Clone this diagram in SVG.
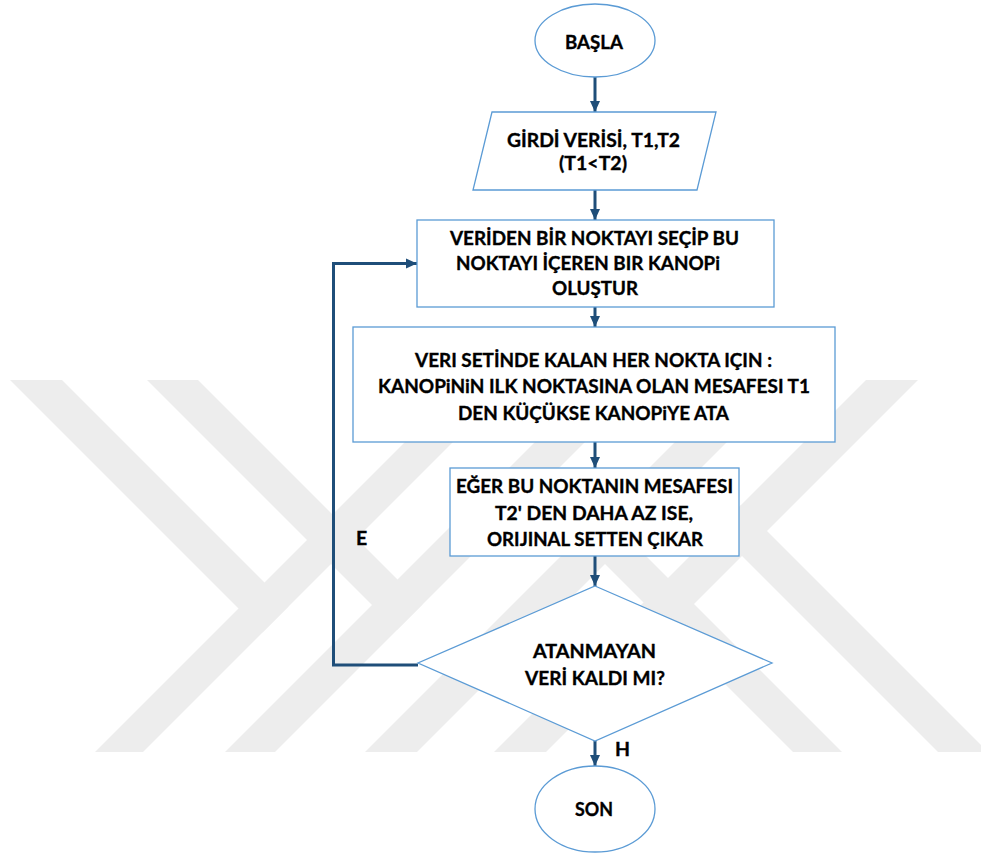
<svg xmlns="http://www.w3.org/2000/svg" width="981" height="855" viewBox="0 0 981 855">
  <defs>
    <style>
      .node { fill: #ffffff; stroke: #5b9bd5; stroke-width: 1.3; }
      .lbl { font-family: "Lato", "Open Sans", "Liberation Sans", sans-serif; font-weight: 700; font-size: 19.5px; fill: #000000; stroke: #000000; stroke-width: 0.35; text-anchor: middle; }
      .tag { font-family: "Lato", "Open Sans", "Liberation Sans", sans-serif; font-weight: 700; font-size: 19.5px; fill: #000000; stroke: #000000; stroke-width: 0.35; }
      .wire { fill: none; stroke: #1f4e79; stroke-width: 3; }
      .mark { fill: #ededed; }
    </style>
    <marker id="arrow" markerUnits="userSpaceOnUse" markerWidth="12" markerHeight="12" viewBox="0 0 12 12" refX="11" refY="6" orient="auto">
      <path d="M0,1 L11,6 L0,11 Z" fill="#1f4e79"/>
    </marker>
    <clipPath id="band">
      <rect x="0" y="380" width="981" height="372"/>
    </clipPath>
  </defs>

  <rect x="0" y="0" width="981" height="855" fill="#ffffff"/>

  <!-- background emblem: diagonal bands -->
  <g id="emblem" clip-path="url(#band)">
    <polygon class="mark" points="467,380 515,380 143,752 95,752"/>
    <polygon class="mark" points="597,380 647,380 275,752 225,752"/>
    <polygon class="mark" points="737,380 789,380 417,752 365,752"/>
    <polygon class="mark" points="866,380 918,380 546,752 494,752"/>
    <polygon class="mark" points="10,380 62,380 288.5,606.5 262.5,632.5"/>
    <polygon class="mark" points="147,380 198,380 422.5,604.5 397,630"/>
    <polygon class="mark" points="716,530 741,505 988,752 938,752"/>
    <polygon class="mark" points="579,538 603.5,513.5 842,752 793,752"/>
  </g>

  <!-- connectors -->
  <g id="connectors">
    <line class="wire" x1="595" y1="77" x2="595" y2="112" marker-end="url(#arrow)"/>
    <line class="wire" x1="595" y1="190" x2="595" y2="220" marker-end="url(#arrow)"/>
    <line class="wire" x1="595" y1="307" x2="595" y2="327" marker-end="url(#arrow)"/>
    <line class="wire" x1="595" y1="442" x2="595" y2="468" marker-end="url(#arrow)"/>
    <line class="wire" x1="595" y1="556" x2="595" y2="586" marker-end="url(#arrow)"/>
    <line class="wire" x1="595" y1="741" x2="595" y2="766" marker-end="url(#arrow)"/>
    <polyline class="wire" points="418,665 333.5,665 333.5,263.5 417,263.5" marker-end="url(#arrow)"/>
    <text class="tag" x="356" y="545">E</text>
    <text class="tag" x="615" y="756">H</text>
  </g>

  <g id="start">
    <ellipse class="node" cx="595" cy="40.5" rx="60" ry="36.5"/>
    <text class="lbl" x="594" y="49" textLength="58" lengthAdjust="spacingAndGlyphs">BAŞLA</text>
  </g>

  <g id="input">
    <polygon class="node" points="492,112 716,112 697,190 473,190"/>
    <text class="lbl" x="593.5" y="147" textLength="173" lengthAdjust="spacingAndGlyphs">GİRDİ VERİSİ, T1,T2</text>
    <text class="lbl" x="593" y="169.5" textLength="68" lengthAdjust="spacingAndGlyphs">(T1&lt;T2)</text>
  </g>

  <g id="pick">
    <rect class="node" x="417" y="220" width="357" height="87"/>
    <text class="lbl" x="594.5" y="245" textLength="289" lengthAdjust="spacingAndGlyphs">VERİDEN BİR NOKTAYI SEÇİP BU</text>
    <text class="lbl" x="588" y="270" textLength="264" lengthAdjust="spacingAndGlyphs">NOKTAYI İÇEREN BIR KANOPi</text>
    <text class="lbl" x="595" y="295" textLength="86" lengthAdjust="spacingAndGlyphs">OLUŞTUR</text>
  </g>

  <g id="assign">
    <rect class="node" x="353" y="327" width="482" height="115"/>
    <text class="lbl" x="593.5" y="367" textLength="357" lengthAdjust="spacingAndGlyphs">VERI SETİNDE KALAN HER NOKTA IÇIN :</text>
    <text class="lbl" x="594" y="393" textLength="432" lengthAdjust="spacingAndGlyphs">KANOPiNiN ILK NOKTASINA OLAN MESAFESI T1</text>
    <text class="lbl" x="593.5" y="420" textLength="271" lengthAdjust="spacingAndGlyphs">DEN KÜÇÜKSE KANOPiYE ATA</text>
  </g>

  <g id="remove">
    <rect class="node" x="450" y="468" width="289" height="88"/>
    <text class="lbl" x="594.5" y="493" textLength="277" lengthAdjust="spacingAndGlyphs">EĞER BU NOKTANIN MESAFESI</text>
    <text class="lbl" x="594" y="520" textLength="198" lengthAdjust="spacingAndGlyphs">T2' DEN DAHA AZ ISE,</text>
    <text class="lbl" x="595" y="546" textLength="216" lengthAdjust="spacingAndGlyphs">ORIJINAL SETTEN ÇIKAR</text>
  </g>

  <g id="decision">
    <polygon class="node" points="595,586 772,663 595,741 418,663"/>
    <text class="lbl" x="594.5" y="658" textLength="123" lengthAdjust="spacingAndGlyphs">ATANMAYAN</text>
    <text class="lbl" x="595" y="685" textLength="140" lengthAdjust="spacingAndGlyphs">VERİ KALDI MI?</text>
  </g>

  <g id="end">
    <ellipse class="node" cx="595" cy="809" rx="60" ry="43"/>
    <text class="lbl" x="594" y="816" textLength="38" lengthAdjust="spacingAndGlyphs">SON</text>
  </g>
</svg>
